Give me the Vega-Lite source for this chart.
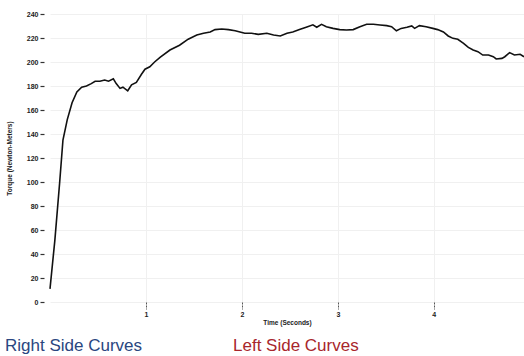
{
  "$schema": "https://vega.github.io/schema/vega-lite/v6.json",
  "autosize": {"type": "none"},
  "padding": {"left": 50, "top": 14, "right": 0, "bottom": 54},
  "width": 474,
  "height": 288,
  "background": "white",
  "config": {"view": {"stroke": null}, "font": "Liberation Sans"},
  "datasets": {
    "curves": [
      {"curve": "Right Side Curves"},
      {"curve": "Left Side Curves"}
    ],
    "torque": [
      {"t": 0.00, "torque": 11},
      {"t": 0.05, "torque": 51},
      {"t": 0.10, "torque": 99},
      {"t": 0.135, "torque": 135},
      {"t": 0.18, "torque": 152},
      {"t": 0.23, "torque": 166},
      {"t": 0.28, "torque": 175},
      {"t": 0.33, "torque": 179},
      {"t": 0.38, "torque": 180},
      {"t": 0.43, "torque": 182},
      {"t": 0.47, "torque": 184},
      {"t": 0.52, "torque": 184},
      {"t": 0.57, "torque": 185},
      {"t": 0.61, "torque": 184},
      {"t": 0.66, "torque": 186},
      {"t": 0.69, "torque": 182},
      {"t": 0.73, "torque": 178},
      {"t": 0.76, "torque": 179},
      {"t": 0.81, "torque": 176},
      {"t": 0.85, "torque": 181},
      {"t": 0.90, "torque": 183},
      {"t": 0.955, "torque": 190},
      {"t": 0.99, "torque": 194},
      {"t": 1.04, "torque": 196},
      {"t": 1.09, "torque": 200},
      {"t": 1.15, "torque": 204},
      {"t": 1.25, "torque": 210},
      {"t": 1.35, "torque": 214},
      {"t": 1.44, "torque": 219},
      {"t": 1.53, "torque": 222.5},
      {"t": 1.60, "torque": 224},
      {"t": 1.67, "torque": 225},
      {"t": 1.72, "torque": 227},
      {"t": 1.79, "torque": 227.5},
      {"t": 1.86, "torque": 227},
      {"t": 1.93, "torque": 226},
      {"t": 1.98, "torque": 225},
      {"t": 2.03, "torque": 224},
      {"t": 2.10, "torque": 224},
      {"t": 2.17, "torque": 223},
      {"t": 2.26, "torque": 224},
      {"t": 2.33, "torque": 222.5},
      {"t": 2.40, "torque": 221.7},
      {"t": 2.47, "torque": 224},
      {"t": 2.53, "torque": 225},
      {"t": 2.60, "torque": 227},
      {"t": 2.67, "torque": 229},
      {"t": 2.74, "torque": 231},
      {"t": 2.78, "torque": 229},
      {"t": 2.83, "torque": 231.4},
      {"t": 2.88, "torque": 229.4},
      {"t": 2.95, "torque": 228},
      {"t": 3.02, "torque": 227},
      {"t": 3.09, "torque": 226.7},
      {"t": 3.16, "torque": 227},
      {"t": 3.23, "torque": 229.4},
      {"t": 3.30, "torque": 231.4},
      {"t": 3.37, "torque": 231.4},
      {"t": 3.44, "torque": 230.8},
      {"t": 3.51, "torque": 230.3},
      {"t": 3.56, "torque": 229.4},
      {"t": 3.61, "torque": 226},
      {"t": 3.66, "torque": 228},
      {"t": 3.72, "torque": 228.9},
      {"t": 3.77, "torque": 230},
      {"t": 3.80, "torque": 228},
      {"t": 3.85, "torque": 230.3},
      {"t": 3.92, "torque": 229.4},
      {"t": 3.99, "torque": 228},
      {"t": 4.04, "torque": 227},
      {"t": 4.10, "torque": 225},
      {"t": 4.15, "torque": 221.7},
      {"t": 4.20, "torque": 219.7},
      {"t": 4.25, "torque": 218.9},
      {"t": 4.31, "torque": 215.6},
      {"t": 4.36, "torque": 212.2},
      {"t": 4.41, "torque": 210},
      {"t": 4.46, "torque": 208.6},
      {"t": 4.51, "torque": 205.8},
      {"t": 4.57, "torque": 205.8},
      {"t": 4.62, "torque": 204.4},
      {"t": 4.65, "torque": 202.5},
      {"t": 4.71, "torque": 203},
      {"t": 4.74, "torque": 204.4},
      {"t": 4.79, "torque": 207.8},
      {"t": 4.84, "torque": 205.8},
      {"t": 4.90, "torque": 206.4},
      {"t": 4.94, "torque": 204.4}
    ]
  },
  "layer": [
    {
      "data": {"name": "torque"},
      "mark": {"type": "line", "color": "#111111", "strokeWidth": 1.6, "clip": false},
      "encoding": {
        "x": {
          "field": "t",
          "type": "quantitative",
          "scale": {"domain": [0, 4.94], "nice": false, "zero": false},
          "axis": {
            "title": "Time (Seconds)",
            "values": [1, 2, 3, 4],
            "format": "d",
            "domain": false,
            "grid": true,
            "gridColor": "#f0f0f0",
            "ticks": true,
            "tickSize": 7,
            "tickColor": "#555555",
            "tickWidth": 1,
            "tickDash": [2, 1],
            "labelFontSize": 7,
            "labelFontWeight": "bold",
            "labelColor": "#222222",
            "labelPadding": 1,
            "titleFontSize": 6.5,
            "titleFontWeight": "bold",
            "titleColor": "#222222",
            "titlePadding": 2
          }
        },
        "y": {
          "field": "torque",
          "type": "quantitative",
          "scale": {"domain": [0, 240], "nice": false},
          "axis": {
            "title": "Torque (Newton-Meters)",
            "values": [0, 20, 40, 60, 80, 100, 120, 140, 160, 180, 200, 220, 240],
            "domain": false,
            "grid": true,
            "gridColor": "#f0f0f0",
            "offset": 6,
            "ticks": true,
            "tickSize": 4,
            "tickColor": "#333333",
            "tickWidth": 1.2,
            "labelFontSize": 7,
            "labelFontWeight": "bold",
            "labelColor": "#222222",
            "labelPadding": 2,
            "titleFontSize": 6.5,
            "titleFontWeight": "bold",
            "titleColor": "#222222",
            "titlePadding": 14
          }
        }
      }
    },
    {
      "data": {"name": "curves"},
      "mark": {"type": "point", "opacity": 0},
      "encoding": {
        "color": {
          "field": "curve",
          "type": "nominal",
          "sort": null,
          "scale": {"domain": ["Right Side Curves", "Left Side Curves"], "range": ["#2a4680", "#a8262c"]},
          "legend": {
            "title": null,
            "orient": "none",
            "legendX": -62,
            "legendY": 323,
            "direction": "horizontal",
            "symbolSize": 0,
            "symbolOpacity": 0,
            "symbolStrokeWidth": 0,
            "labelOffset": 0,
            "labelFont": "Liberation Sans",
            "labelFontSize": 17,
            "labelLimit": 300,
            "columnPadding": 73,
            "padding": 0,
            "labelColor": {"expr": "datum.label === 'Right Side Curves' ? '#2a4680' : '#a8262c'"}
          }
        }
      }
    }
  ]
}
